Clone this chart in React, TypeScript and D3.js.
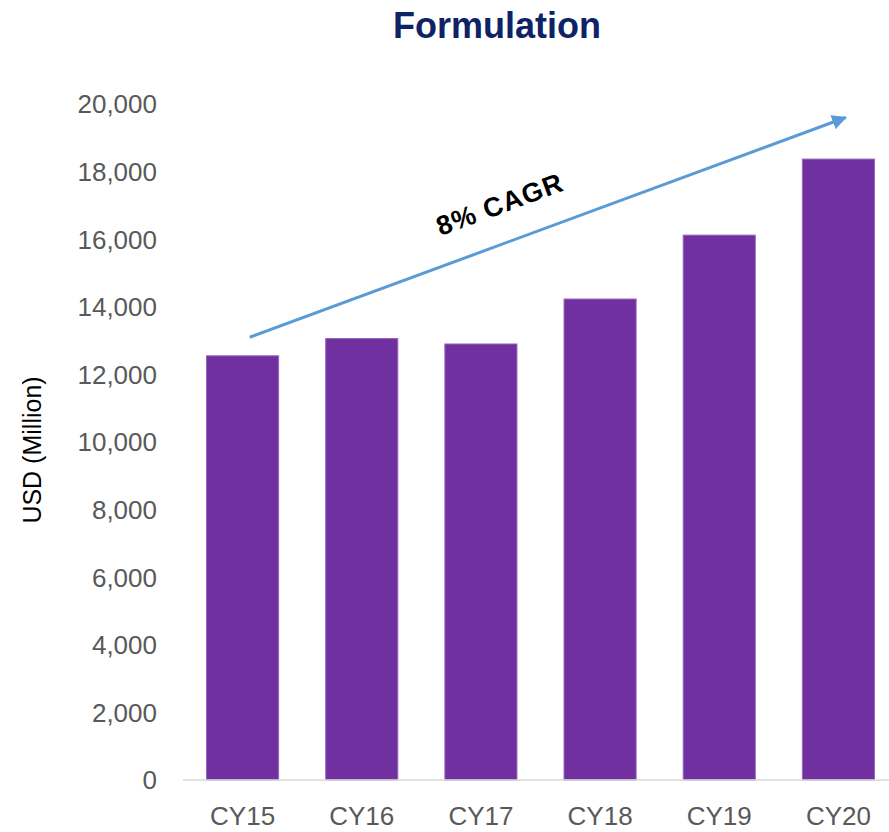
import React from "react";
import * as d3 from "d3";

const categories = ["CY15", "CY16", "CY17", "CY18", "CY19", "CY20"];
const values = [12550, 13060, 12900, 14230, 16120, 18370];
const yTicks = [0, 2000, 4000, 6000, 8000, 10000, 12000, 14000, 16000, 18000, 20000];
const arrowStart = { cat: "CY15", value: 13100 };
const arrowEnd = { cat: "CY20", value: 19600 };

const FONT = "'Liberation Sans', Arial, sans-serif";

export default function App() {
  const W = 889, H = 832;
  const y = d3.scaleLinear().domain([0, 20000]).range([780, 104]);
  const x = d3.scaleBand().domain(categories).range([183, 898]).paddingInner(0.395).paddingOuter(0.1975);
  const fmt = d3.format(",");
  const x1 = (x(arrowStart.cat) as number) + x.bandwidth() * 0.6;
  const y1 = y(arrowStart.value);
  const x2 = (x(arrowEnd.cat) as number) + x.bandwidth() * 0.6;
  const y2 = y(arrowEnd.value);
  const angle = (Math.atan2(y2 - y1, x2 - x1) * 180) / Math.PI;
  return (
    <svg width={W} height={H} style={{ position: "absolute", left: 0, top: 0, background: "#fff" }}>
      <defs>
        <marker id="ah" viewBox="0 0 10 10" refX="9" refY="5" markerWidth="5" markerHeight="5" orient="auto" markerUnits="strokeWidth">
          <path d="M0,0 L10,5 L0,10 z" fill="#5B9BD5" />
        </marker>
      </defs>
      <text x={497} y={38} textAnchor="middle" fontFamily={FONT} fontWeight="bold" fontSize={36} fill="#0E2367">
        Formulation
      </text>
      <text transform={`translate(41,450) rotate(-90)`} textAnchor="middle" fontFamily={FONT} fontSize={25} fill="#000">
        USD (Million)
      </text>
      {yTicks.map((t) => (
        <text key={t} x={157} y={y(t)} dy="0.36em" textAnchor="end" fontFamily={FONT} fontSize={26} fill="#595959">
          {fmt(t)}
        </text>
      ))}
      {categories.map((c, i) => (
        <rect key={c} x={x(c)} y={y(values[i])} width={x.bandwidth()} height={y(0) - y(values[i])} fill="#7030A0" stroke="#9466BD" strokeWidth={1} />
      ))}
      <line x1={183} x2={889} y1={y(0)} y2={y(0)} stroke="#D9D9D9" strokeWidth={1.5} />
      {categories.map((c) => (
        <text key={c} x={(x(c) as number) + x.bandwidth() / 2} y={816} dy="0.36em" textAnchor="middle" fontFamily={FONT} fontSize={26} fill="#595959">
          {c}
        </text>
      ))}
      <line x1={x1} y1={y1} x2={x2} y2={y2} stroke="#5B9BD5" strokeWidth={3} markerEnd="url(#ah)" />
      <text transform={`translate(503,213) rotate(${angle})`} textAnchor="middle" fontFamily={FONT} fontWeight="bold" fontSize={27} fill="#000" letterSpacing={1}>
        8% CAGR
      </text>
    </svg>
  );
}
